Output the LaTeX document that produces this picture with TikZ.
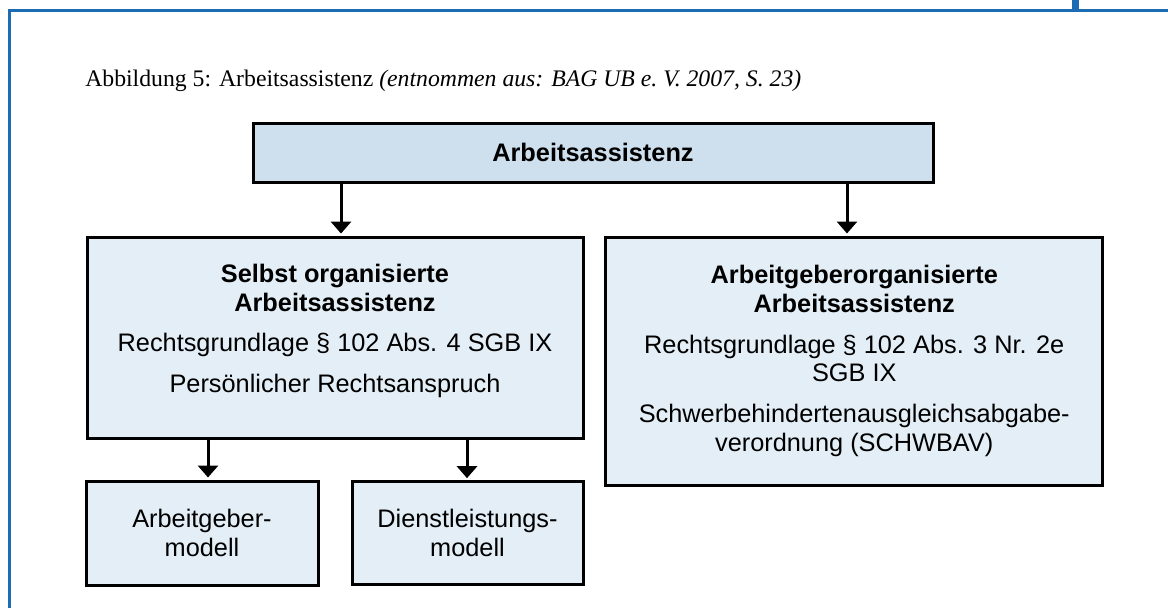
\documentclass[tikz,border=0pt]{standalone}
\usepackage{fontspec}
\newfontfamily\arial{Liberation Sans}
\newfontfamily\titlefont{Liberation Serif}
\usetikzlibrary{arrows.meta}
\definecolor{frameblue}{RGB}{28,108,180}
\definecolor{topfill}{RGB}{206,223,237}
\definecolor{boxfill}{RGB}{227,238,246}
\tikzset{
  box/.style={draw=black, line width=2.25pt, fill=boxfill, align=center,
    font=\arial\fontsize{19}{21.5}\selectfont, inner sep=0pt},
  arr/.style={line width=2.25pt, -{Triangle[width=15pt,length=9pt]}, shorten >=1.5pt}
}
\begin{document}
\begin{tikzpicture}[x=0.75pt,y=-0.75pt]
\useasboundingbox (0,0) rectangle (1168,608);
% frame
\draw[frameblue, line width=2.25pt] (9.5,608) -- (9.5,10) -- (1168,10);
\fill[frameblue] (1072,0) rectangle (1079,9);
% title
\node[anchor=base west, inner sep=0pt, font=\titlefont\fontsize{17.8}{20}\selectfont] (title) at (85,86)
  {Abbildung 5: Arbeitsassistenz \textit{(entnommen aus: BAG UB e.\ V. 2007, S. 23)}};
% boxes
\node[box, fill=topfill, minimum width=510pt, minimum height=44.25pt] (top) at (593,152.5)
  {\textbf{Arbeitsassistenz}};
\node[box, minimum width=372pt, minimum height=151pt] (left) at (335,337.75) {};
\node[font=\arial\fontsize{19}{21.5}\selectfont, align=center, inner sep=0pt] (lefttext) at (335,331)
  {\textbf{Selbst organisierte}\\\textbf{Arbeitsassistenz}\\[9pt]
   Rechtsgrundlage § 102 Abs. 4 SGB IX\\[9pt]
   Persönlicher Rechtsanspruch};
\node[box, minimum width=372.4pt, minimum height=186pt] (right) at (854.25,361)
  {\textbf{Arbeitgeberorganisierte}\\\textbf{Arbeitsassistenz}\\[9pt]
   Rechtsgrundlage § 102 Abs. 3 Nr. 2e\\SGB IX\\[9pt]
   Schwerbehindertenausgleichsabgabe-\\verordnung (SCHWBAV)};
\node[box, minimum width=174pt, minimum height=78pt] (bl) at (202,533)
  {Arbeitgeber-\\modell};
\node[box, minimum width=173.25pt, minimum height=77pt] (br) at (467.5,533)
  {Dienstleistungs-\\modell};
% arrows
\coordinate (a1) at (341,0);
\coordinate (a2) at (847,0);
\coordinate (a3) at (208,0);
\coordinate (a4) at (467,0);
\draw[arr] (top.south -| a1) -- (left.north -| a1);
\draw[arr] (top.south -| a2) -- (right.north -| a2);
\draw[arr] (left.south -| a3) -- (bl.north -| a3);
\draw[arr] (left.south -| a4) -- (br.north -| a4);
\end{tikzpicture}
\end{document}
